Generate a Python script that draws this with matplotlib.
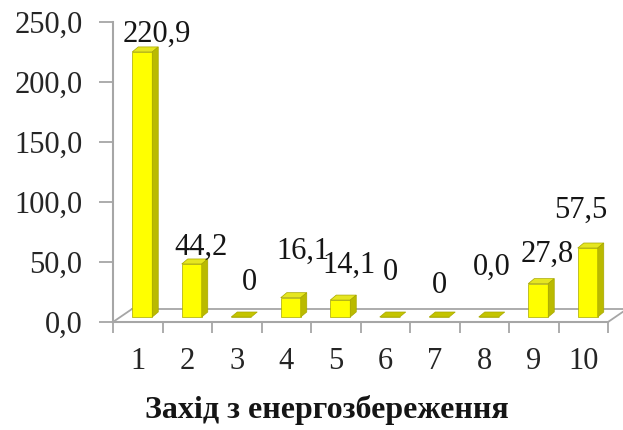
import matplotlib
matplotlib.use("Agg")
import matplotlib.pyplot as plt
import matplotlib.transforms as mtransforms
from matplotlib.patches import Polygon
from matplotlib.lines import Line2D
from matplotlib.ticker import FixedLocator

# --- data ---
categories = ["1", "2", "3", "4", "5", "6", "7", "8", "9", "10"]
values = [220.9, 44.2, 0.0, 16.1, 14.1, 0.0, 0.0, 0.0, 27.8, 57.5]
value_labels = ["220,9", "44,2", "0", "16,1", "14,1", "0", "0", "0,0", "27,8", "57,5"]
y_ticks = [0, 50, 100, 150, 200, 250]
y_tick_labels = ["0,0", "50,0", "100,0", "150,0", "200,0", "250,0"]
x_title = "Захід з енергозбереження"

# label placement (pixel offsets from the top of each column)
label_offsets = [(19, 15), (14, 14), (13, 32), (17, 44), (13, 32),
                 (5, 42), (5, 29), (8, 47), (14, 27), (-2, 35)]

SERIF = ["Liberation Serif", "DejaVu Serif"]
plt.rcParams["font.family"] = SERIF

W, H = 623, 430
fig = plt.figure(figsize=(W / 100, H / 100), dpi=100)
ax = fig.add_axes([113 / W, (H - 322) / H, 495 / W, 300 / H])
ax.set_xlim(0.5, len(categories) + 0.5)
ax.set_ylim(0, 250)

# scale factors: pixels per data unit
sx = 495 / len(categories)
sy = 300 / 250

axis_color = "#A6A6A6"
front_col = "#FFFF00"
side_col = "#BABA00"
top_col = "#E6E620"
flat_col = "#C4C400"
edge_col = "#A8A800"
text_col = "#151515"
fs = 22

# floor of the 3-D plot area
fdx, fdy = 19 / sx, 13 / sy
n = len(categories)
for xs, ys in [((0.5 + fdx, n + 0.5 + fdx), (fdy, fdy)),
               ((0.5, 0.5 + fdx), (0, fdy)),
               ((n + 0.5, n + 0.5 + fdx), (0, fdy))]:
    ax.add_line(Line2D(xs, ys, color=axis_color, lw=1.3, clip_on=False, zorder=1))

# columns: front face shifted into the depth of the floor
shift = mtransforms.offset_copy(ax.transData, fig=fig, x=4.5, y=5, units="dots")
xpos = list(range(1, n + 1))
bw = 20 / sx
ddx, ddy = 6 / sx, 5 / sy

bars = ax.bar(xpos, values, width=bw, color=front_col, edgecolor=edge_col,
              linewidth=0.5, transform=shift, zorder=3)
for xi, v in zip(xpos, values):
    x0, x1 = xi - bw / 2, xi + bw / 2
    top = Polygon([(x0, v), (x0 + ddx, v + ddy), (x1 + ddx, v + ddy), (x1, v)],
                  closed=True, facecolor=top_col if v > 0 else flat_col,
                  edgecolor=edge_col, lw=0.5, transform=shift, zorder=4,
                  clip_on=False)
    ax.add_patch(top)
    if v > 0:
        side = Polygon([(x1, 0), (x1 + ddx, ddy), (x1 + ddx, v + ddy), (x1, v)],
                       closed=True, facecolor=side_col, edgecolor=edge_col,
                       lw=0.5, transform=shift, zorder=4, clip_on=False)
        ax.add_patch(side)

# value labels
for xi, v, lab, (ox, oy) in zip(xpos, values, value_labels, label_offsets):
    ax.annotate(lab, (xi, v), xytext=(ox, oy), textcoords="offset pixels",
                ha="center", va="baseline", fontsize=fs, color=text_col,
                annotation_clip=False, zorder=6)

# axes styling
for s in ("top", "right"):
    ax.spines[s].set_visible(False)
for s in ("left", "bottom"):
    ax.spines[s].set_color(axis_color)
    ax.spines[s].set_linewidth(1.5)
ax.set_yticks(y_ticks, y_tick_labels)
ax.tick_params(axis="y", length=10, width=1.3, color=axis_color, pad=12,
               labelsize=fs, labelcolor="#252525")
ax.set_xticks(xpos, categories)
ax.xaxis.set_minor_locator(FixedLocator([i + 0.5 for i in range(0, n + 1)]))
ax.tick_params(axis="x", which="major", length=0, pad=18, labelsize=fs,
               labelcolor="#252525")
ax.tick_params(axis="x", which="minor", length=8, width=1.3, color=axis_color,
               direction="out")

fig.text(327 / W, 1 - 418 / H, x_title, ha="center", va="baseline",
         fontsize=23, fontweight="bold", color=text_col)

fig.savefig("out.png", dpi=100)
